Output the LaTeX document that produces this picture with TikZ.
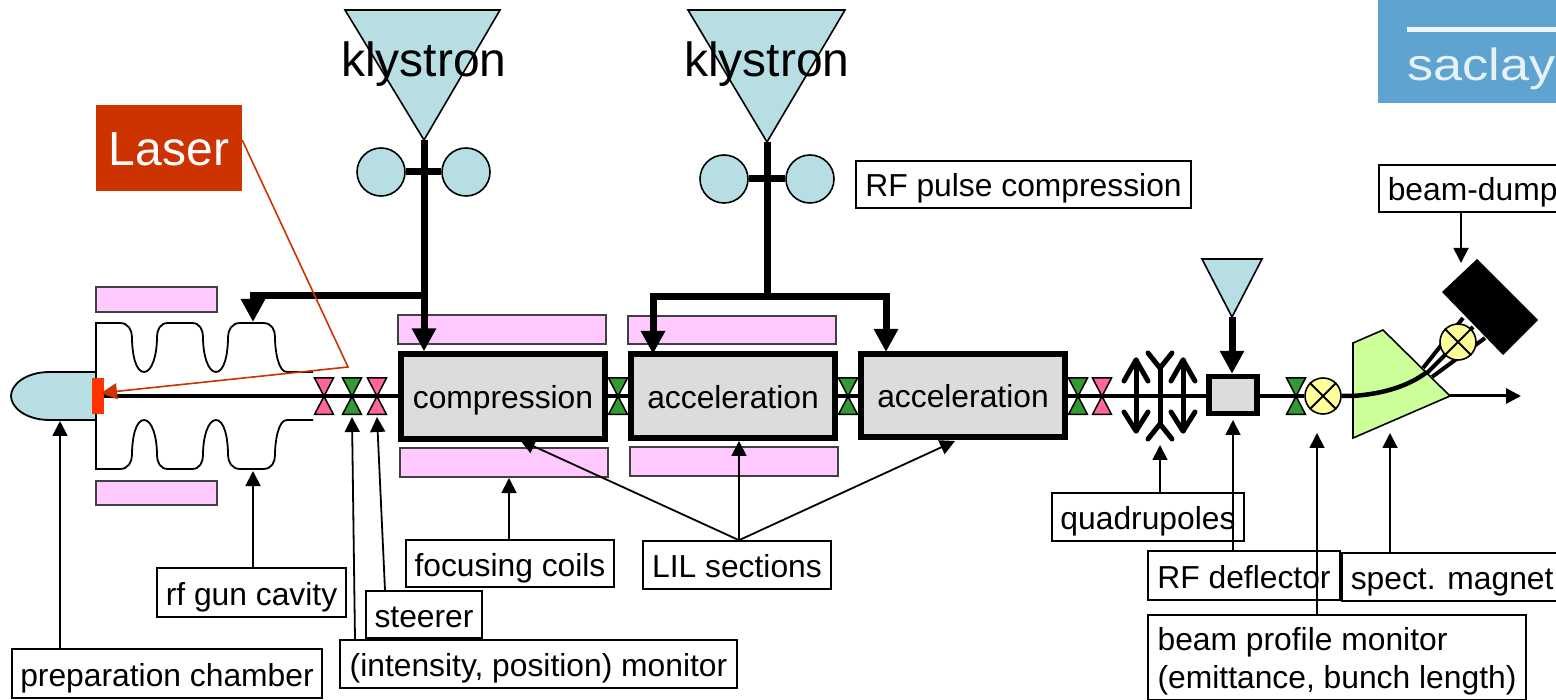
\documentclass[tikz,border=0pt]{standalone}
\usepackage{fontspec}
\usepackage{graphicx}
\setmainfont{Liberation Sans}
\usetikzlibrary{arrows.meta,calc}
\definecolor{klyblue}{HTML}{B7DFE3}
\definecolor{coilpink}{HTML}{FFC9FF}
\definecolor{tiepink}{HTML}{FF6699}
\definecolor{tiegreen}{HTML}{339933}
\definecolor{lasred}{HTML}{CC3300}
\definecolor{catred}{HTML}{FF3300}
\definecolor{secgray}{HTML}{DCDCDC}
\definecolor{monyellow}{HTML}{FFFF99}
\definecolor{maggreen}{HTML}{CCFF99}
\definecolor{logoblue}{HTML}{5FA3D0}
\tikzset{
  x=1pt,y=-1pt,
  lblbase/.style={draw=black,line width=1.6pt,fill=white,font=\fontsize{31.8}{38}\selectfont,inner sep=0pt},
  lbl/.style={lblbase,text height=29pt,text depth=4pt},
  coil/.style={draw=black!75,line width=1.5pt,fill=coilpink,inner sep=0pt},
  section/.style={draw=black,line width=5.3pt,fill=secgray,inner sep=0pt,font=\fontsize{31.8}{38}\selectfont,text height=30pt,text depth=5pt},
  thinarr/.style={line width=1.8pt,-{Triangle[length=15pt,width=15pt]}},
  thickarr/.style={line width=7pt,-{Triangle[length=23pt,width=23pt]}},
  thickln/.style={line width=7pt},
  tie/.style={draw=black,line width=1.5pt},
  rfbulb/.style={circle,draw=black,line width=1.6pt,fill=klyblue,minimum size=48pt,inner sep=0pt},
  mon/.style={circle,draw=black,line width=1.6pt,fill=monyellow,minimum size=36pt,inner sep=0pt},
  klytxt/.style={font=\fontsize{48}{56}\selectfont,inner sep=0pt,text height=44pt,text depth=10pt},
  kly/.style={draw=black,line width=1.6pt,fill=klyblue},
  quad/.style={line width=5pt,line cap=round,line join=round},
  cav/.style={line width=1.8pt}
}
\newcommand\btie[2]{\draw[tie,fill=#2] ({#1-9.5},378) -- ({#1+9.5},378) -- ({#1-9.5},414.5) -- ({#1+9.5},414.5) -- cycle;}
\begin{document}
\begin{tikzpicture}
\useasboundingbox (0,0) rectangle (1556,700);
\clip (0,0) rectangle (1556,700);

% logo
\fill[logoblue] (1378,0) rectangle (1570,103);
\fill[white!90!logoblue] (1407,27) rectangle (1570,32);
\node[anchor=base west,inner sep=0pt,text=white!85!logoblue,font=\fontsize{45}{54}\selectfont] (logo) at (1407,81) {\scalebox{1.16}[1]{saclay}};

% coordinates
\coordinate (k1tip) at (424,140);
\coordinate (k2tip) at (767,142);
\coordinate (k3tip) at (1232,317);
\coordinate (beamstart) at (104,396);
\coordinate (beamend) at (1521,396);
\coordinate (magout) at (1450,396);

% klystrons
\draw[kly] (345,10) -- (500,10) -- (k1tip) -- cycle;
\draw[kly] (688,10) -- (845,10) -- (k2tip) -- cycle;
\draw[kly] (1202,259) -- (1262,259) -- (k3tip) -- cycle;
\node[klytxt] (kt1) at (424,60) {klystron};
\node[klytxt] (kt2) at (767,60) {klystron};

% pulse compression
\node[rfbulb] (b1) at (381,172) {};
\node[rfbulb] (b2) at (466,172) {};
\node[rfbulb] (b3) at (724,179) {};
\node[rfbulb] (b4) at (810,179) {};
\draw[thickln] (b1) -- (b2);
\draw[thickln] (b3) -- (b4);

% coils
\node[coil,minimum width=121pt,minimum height=25pt] (c1) at (156.5,299.5) {};
\node[coil,minimum width=121pt,minimum height=24pt] (c2) at (156.5,493) {};
\node[coil,minimum width=208pt,minimum height=29pt] (c3) at (502,329.5) {};
\node[coil,minimum width=208pt,minimum height=28pt] (c4) at (732,330) {};
\node[coil,minimum width=208pt,minimum height=29pt] (c5) at (504,462.5) {};
\node[coil,minimum width=208pt,minimum height=29pt] (c6) at (734,461.5) {};

% gun
\draw[line width=1.8pt,fill=klyblue] (96,372) -- (50,372) .. controls (25,372) and (11,385) .. (11,396) .. controls (11,407) and (25,420) .. (50,420) -- (96,420);
\draw[cav] (313,372) -- (287,372) .. controls (278,372) and (275,350) .. (275,337) .. controls (275,330) and (272,323) .. (263,323) -- (240,323) .. controls (232,323) and (228,330) .. (228,337) .. controls (228,355) and (224,372) .. (216,372) .. controls (208,372) and (203,355) .. (203,337) .. controls (203,330) and (200,323) .. (192,323) -- (168,323) .. controls (160,323) and (157,330) .. (157,337) .. controls (157,355) and (152,372) .. (144,372) .. controls (136,372) and (132,355) .. (132,337) .. controls (132,330) and (128,323) .. (120,323) -- (96,323) -- (96,469) -- (120,469) .. controls (128,469) and (132,462) .. (132,455) .. controls (132,437) and (136,420) .. (144,420) .. controls (152,420) and (157,437) .. (157,455) .. controls (157,462) and (160,469) .. (168,469) -- (192,469) .. controls (200,469) and (203,462) .. (203,455) .. controls (203,437) and (208,420) .. (216,420) .. controls (224,420) and (228,437) .. (228,455) .. controls (228,462) and (232,469) .. (240,469) -- (263,469) .. controls (272,469) and (275,462) .. (275,455) .. controls (275,442) and (278,420) .. (287,420) -- (313,420);
\node[fill=catred,minimum width=12pt,minimum height=36pt,inner sep=0pt] (cathode) at (98,396) {};

% monitors (bow ties)
\btie{324}{tiepink}
\btie{352}{tiegreen}
\btie{377}{tiepink}
\btie{618}{tiegreen}
\btie{848}{tiegreen}
\btie{1078}{tiegreen}
\btie{1102}{tiepink}
\btie{1296}{tiegreen}

% magnet
\draw[line width=1.6pt,fill=maggreen] (1353,343) -- (1383,330) -- (magout) -- (1353,438) -- cycle;

% sections
\node[section,minimum width=204pt,minimum height=85pt] (comp) at (503,396.5) {compression};
\node[section,minimum width=204pt,minimum height=84pt] (acc1) at (733,396) {acceleration};
\node[section,minimum width=204pt,minimum height=83pt] (acc2) at (963,395.5) {acceleration};
\node[draw=black,line width=5.3pt,fill=secgray,minimum width=48pt,minimum height=37pt,inner sep=0pt] (defl) at (1233,395) {};
\node[mon] (m1) at (1323,396) {};

% beam line
\draw[line width=4pt] (beamstart) -- (comp.west |- beamstart);
\draw[line width=4pt] (comp.east |- beamstart) -- (acc1.west |- beamstart);
\draw[line width=4pt] (acc1.east |- beamstart) -- (acc2.west |- beamstart);
\draw[line width=4pt] (acc2.east |- beamstart) -- (defl.west |- beamstart);
\draw[line width=4pt] (defl.east |- beamstart) -- (m1.west);
\draw[line width=3pt,-{Triangle[length=15pt,width=15pt]}] (magout) -- (beamend);
\draw[line width=4.5pt] (m1.east) -- (1352,396) .. controls (1385,394) and (1410,385) .. (1427,372);

% quadrupoles
\draw[quad] (1160,368) -- (1160,424);
\draw[quad] (1148,353) -- (1160,368) -- (1172,353);
\draw[quad] (1148,439) -- (1160,424) -- (1172,439);
\draw[quad] (1136,360) -- (1136,431);
\draw[quad] (1124,381) -- (1136,360) -- (1148,381);
\draw[quad] (1124,412) -- (1136,431) -- (1148,412);
\draw[quad] (1183,360) -- (1183,431);
\draw[quad] (1171,381) -- (1183,360) -- (1195,381);
\draw[quad] (1171,412) -- (1183,431) -- (1195,412);

% dump
\coordinate (dumpa) at (1477,259);
\coordinate (dumpb) at (1538,320);
\coordinate (dumpc) at (1503,355);
\coordinate (dumpd) at (1442,292);
\draw[line width=4pt] (1423,368) -- (1463,318);
\draw[line width=4pt] (1427,373) -- (1473,327);
\draw[line width=4pt] (1432,377) -- (1485,338);
\fill[black] (dumpa) -- (dumpb) -- (dumpc) -- (dumpd) -- cycle;
\node[mon] (m3) at (1458,342) {};
\draw[line width=1.8pt] (m1.45) -- (m1.225) (m1.135) -- (m1.315);
\draw[line width=1.8pt] (m3.45) -- (m3.225) (m3.135) -- (m3.315);

% RF feeds
\draw[thickln] (k1tip) -- (424,330);
\draw[thickarr] (424,320) -- (comp.north -| k1tip);
\draw[thickarr] (424,296) -| (253,322);
\draw[thickln] (k2tip) -- (767,297);
\draw[thickarr] (767,297) -| (653,354);
\draw[thickarr] (767,297) -| (886,352);
\draw[thickarr] (k3tip) -- (defl.north -| k3tip);

% laser
\node[fill=lasred,text=white,minimum width=146pt,minimum height=86pt,inner sep=0pt,font=\fontsize{48}{56}\selectfont,text height=44pt,text depth=8pt] (laser) at (169,148) {Laser};
\coordinate (mirror) at (348,367);
\draw[lasred,line width=1.6pt,line join=miter,-{Triangle[length=16pt,width=16pt]}] (laser.east |- 0,140) -- (mirror) -- (101,393);

% labels
\node[lbl,minimum width=335pt,minimum height=47pt] (lrf) at (1023.5,184.5) {RF pulse compression};
\node[lbl,minimum height=47pt,anchor=west,inner xsep=9pt] (ldump) at (1378,188.5) {beam-dump};
\node[lbl,minimum width=192pt,minimum height=48pt] (lquad) at (1148,517) {quadrupoles};
\node[lbl,minimum width=192pt,minimum height=49pt] (ldefl) at (1244,575.5) {RF deflector};
\node[lbl,minimum height=48pt,anchor=west,inner xsep=9pt] (lmag) at (1341,577) {spect. magnet};
\node[lblbase,minimum width=378pt,minimum height=85pt,align=left] (lprof) at (1337,657.5) {\rule{0pt}{30pt}beam profile monitor\\(emittance, bunch length)};
\node[lbl,minimum width=188pt,minimum height=48pt] (llil) at (737,565) {LIL sections};
\node[lbl,minimum width=208pt,minimum height=47pt] (lfoc) at (510,563.5) {focusing coils};
\node[lbl,minimum width=189pt,minimum height=49pt] (lgun) at (251.5,592.5) {rf gun cavity};
\node[lbl,minimum width=116pt,minimum height=47pt] (lste) at (424,614.5) {steerer};
\node[lbl,minimum width=397pt,minimum height=48pt] (lint) at (538.5,664) {(intensity, position) monitor};
\node[lbl,minimum width=310pt,minimum height=49pt] (lprep) at (167,673.5) {preparation chamber};

% label arrows
\coordinate (tgun) at (253,471);
\coordinate (tprep) at (60,421);
\coordinate (tint) at (352,417);
\coordinate (tste) at (377,417);
\coordinate (tfoc) at (509,478);
\coordinate (tlila) at (520,440);
\coordinate (tlilb) at (739,441);
\coordinate (tlilc) at (955,441);
\coordinate (tquad) at (1160,445);
\coordinate (tdefl) at (1233,420);
\coordinate (tprof) at (1317,433);
\coordinate (tmag) at (1390,433);
\coordinate (tdump) at (1461,263);
\draw[thinarr] (lgun.north -| tgun) -- (tgun);
\draw[thinarr] (lprep.north -| tprep) -- (tprep);
\draw[thinarr] ([xshift=-183.5pt]lint.north) -- (tint);
\draw[thinarr] ([xshift=-39pt]lste.north) -- (tste);
\draw[thinarr] (lfoc.north -| tfoc) -- (tfoc);
\draw[thinarr] (llil.north -| tlilb) -- (tlila);
\draw[thinarr] (llil.north -| tlilb) -- (tlilb);
\draw[thinarr] (llil.north -| tlilb) -- (tlilc);
\draw[thinarr] (lquad.north -| tquad) -- (tquad);
\draw[thinarr] (ldefl.north -| tdefl) -- (tdefl);
\draw[thinarr] (lprof.north -| tprof) -- (tprof);
\draw[thinarr] (lmag.north -| tmag) -- (tmag);
\draw[thinarr] (ldump.south -| tdump) -- (tdump);
\end{tikzpicture}
\end{document}
